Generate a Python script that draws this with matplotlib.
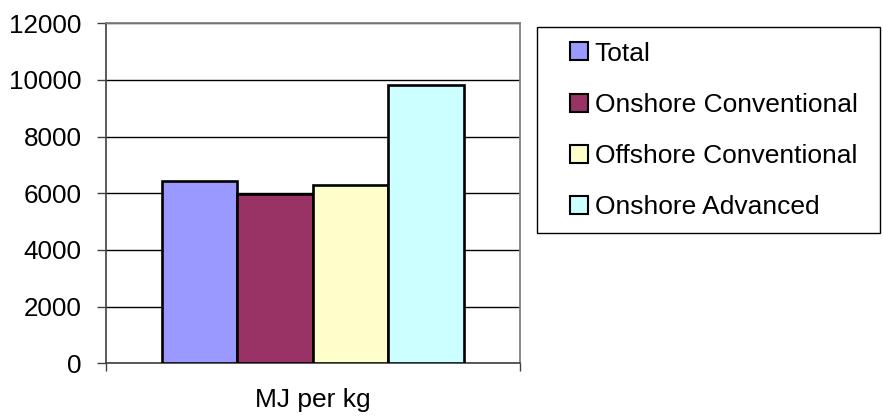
import numpy as np
import matplotlib
matplotlib.use("Agg")
import matplotlib.pyplot as plt
from matplotlib.patches import Patch, Rectangle

# energy intensity per series
series = ["Total", "Onshore Conventional", "Offshore Conventional", "Onshore Advanced"]
values = [6450, 5975, 6300, 9830]
colors = ["#9999FF", "#993366", "#FFFFCC", "#CCFFFF"]
category = "MJ per kg"
yticks = [0, 2000, 4000, 6000, 8000, 10000, 12000]

plt.rcParams["font.family"] = ["Liberation Sans", "DejaVu Sans"]
plt.rcParams["font.size"] = 19

W, H = 883, 417
fig = plt.figure(figsize=(W / 100, H / 100), dpi=100)
ax = fig.add_axes([0.1197, 0.1288, 0.4693, 0.8153])

barWidth = 0.182
offsets = (np.arange(len(series)) - 1.5) * barWidth
for off, val, col in zip(offsets, values, colors):
    ax.bar(off, val, width=barWidth, color=col, edgecolor="black", linewidth=1.9, zorder=3)

ax.set_xlim(-0.5, 0.5)
ax.set_ylim(0, 12000)
ax.set_yticks(yticks)
ax.set_yticklabels([str(t) for t in yticks], fontsize=18.7)
ax.set_xticks([-0.5, 0.5])
ax.set_xticklabels([])
ax.tick_params(axis="y", direction="out", length=6.5, width=1, color="#404040", pad=11)
ax.tick_params(axis="x", direction="out", length=6, width=1, color="#404040")
ax.set_xlabel(category, labelpad=8)

ax.yaxis.grid(True, color="black", linewidth=1, zorder=0)
ax.set_axisbelow(True)
for side in ["top", "right"]:
    ax.spines[side].set_color("#808080")
    ax.spines[side].set_linewidth(1.3)
for side in ["left", "bottom"]:
    ax.spines[side].set_color("#404040")
    ax.spines[side].set_linewidth(1.2)

# legend box drawn separately so the inner margins can differ
fig.patches.append(Rectangle((537 / W, 1 - 233 / H), (880 - 537) / W, (233 - 27) / H,
                             transform=fig.transFigure, facecolor="white",
                             edgecolor="black", linewidth=1, zorder=1))
handles = [Patch(facecolor=c, edgecolor="black", linewidth=1.5) for c in colors]
leg = fig.legend(handles, series, loc="center left", bbox_to_anchor=(570 / W, 1 - 130.5 / H),
                 frameon=False, handlelength=0.68, handleheight=0.68,
                 handletextpad=0.25, labelspacing=1.035, borderpad=0, borderaxespad=0,
                 fontsize=19)
leg.set_zorder(2)

fig.savefig("out.png", dpi=100)
plt.close(fig)
